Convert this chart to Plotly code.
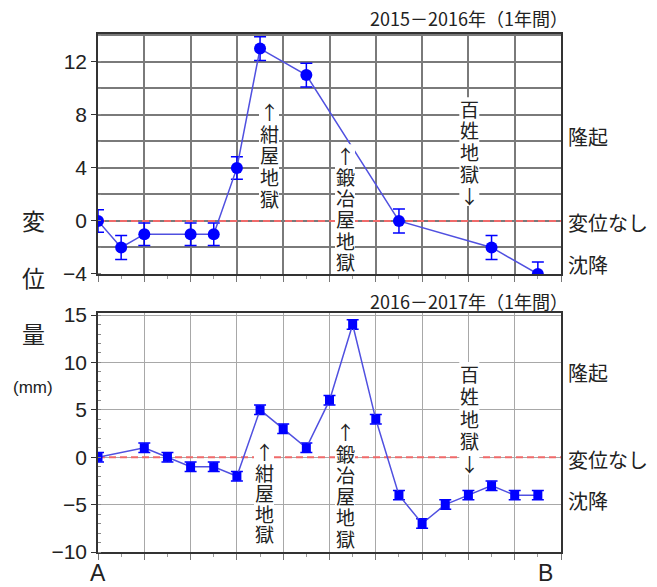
import plotly.graph_objects as go

# Survey points along the A-B profile (grid units) and vertical displacement (mm)
x_1516 = [0, 0.5, 1, 2, 2.5, 3, 3.5, 4.5, 6.5, 8.5, 9.5]
d_1516 = [0, -2, -1, -1, -1, 4, 13, 11, 0, -2, -4]
err_1516 = [0.85, 0.9, 0.85, 0.85, 0.85, 0.85, 0.9, 0.9, 0.9, 0.9, 0.9]

x_1617 = [0, 1, 1.5, 2, 2.5, 3, 3.5, 4, 4.5, 5, 5.5, 6, 6.5, 7, 7.5, 8, 8.5, 9, 9.5]
d_1617 = [0, 1, 0, -1, -1, -2, 5, 3, 1, 6, 14, 4, -4, -7, -5, -4, -3, -4, -4]
err_1617 = [0.5] * len(x_1617)

title_1516 = "2015－2016年（1年間）"
title_1617 = "2016－2017年（1年間）"
side_labels = ["隆起", "変位なし", "沈降"]

JP = "Noto Sans CJK JP"
NUM = "Liberation Sans"
LINE_BLUE = "#5050e0"
MARK_BLUE = "#0000ff"

# plot-area geometry in pixels (used to place free text)
L, R, T, B = 98, 96, 34, 35
W, H = 657, 587
PW, PH = W - L - R, H - T - B


def px_x(px):
    return (px - L) / PW


def px_y(py):
    return (H - B - py) / PH


fig = go.Figure()

fig.add_trace(go.Scatter(
    x=x_1516, y=d_1516, mode="lines+markers",
    line=dict(color=LINE_BLUE, width=1.5),
    marker=dict(symbol="circle", size=12, color=MARK_BLUE),
    error_y=dict(type="data", array=err_1516, color=MARK_BLUE, thickness=1.5, width=6),
    xaxis="x", yaxis="y", showlegend=False,
))
fig.add_trace(go.Scatter(
    x=x_1617, y=d_1617, mode="lines+markers",
    line=dict(color=LINE_BLUE, width=1.5),
    marker=dict(symbol="square", size=9, color=MARK_BLUE),
    error_y=dict(type="data", array=err_1617, color=MARK_BLUE, thickness=1.5, width=6),
    xaxis="x2", yaxis="y2", showlegend=False,
))

# zero-displacement reference lines (above the grid, below the data)
for xr, yr in (("x", "y"), ("x2", "y2")):
    fig.add_shape(type="line", xref=xr, yref=yr, x0=0, x1=10, y0=0, y1=0,
                  line=dict(color="#f06a6a", width=2, dash="7px,4px"), layer="between")

xcommon = dict(range=[0, 10], dtick=1, tick0=0, showgrid=True, showticklabels=False,
               ticks="outside", ticklen=6, tickcolor="#777", showline=True, mirror=True,
               linecolor="#333", linewidth=1.5, zeroline=False,
               minor=dict(dtick=0.5, ticks="outside", ticklen=3, tickcolor="#999"))

fig.update_layout(
    width=W, height=H,
    margin=dict(l=L, r=R, t=T, b=B),
    paper_bgcolor="white", plot_bgcolor="white",
    font=dict(family=NUM, color="#222"),
    xaxis=dict(**xcommon, anchor="y", gridcolor="#7a7a7a", gridwidth=1.5),
    yaxis=dict(domain=[0.5367, 1], range=[-4, 14.1], dtick=4, tick0=0,
               showgrid=True, gridcolor="#7a7a7a", gridwidth=1.5, zeroline=False,
               ticks="outside", ticklen=5, tickcolor="#333",
               tickfont=dict(family=NUM, size=21, color="#222"),
               showline=True, mirror=True, linecolor="#333", linewidth=1.5,
               minor=dict(dtick=2, showgrid=True, gridcolor="#7a7a7a", gridwidth=1.5,
                          ticks="inside", ticklen=3, tickcolor="#888"),
               anchor="x"),
    xaxis2=dict(**xcommon, anchor="y2", gridcolor="#a8a8a8", gridwidth=1.2),
    yaxis2=dict(domain=[0, 0.462], range=[-10, 15.25], dtick=5, tick0=0,
                showgrid=True, gridcolor="#a8a8a8", gridwidth=1.2, zeroline=False,
                ticks="outside", ticklen=5, tickcolor="#333",
                tickfont=dict(family=NUM, size=21, color="#222"),
                showline=True, mirror=True, linecolor="#333", linewidth=1.5,
                minor=dict(dtick=1, ticks="inside", ticklen=3, tickcolor="#888"),
                anchor="x2"),
)

ann = []


def paper(text, px, py, size, xanchor="center", family=JP):
    ann.append(dict(text=text, xref="paper", yref="paper",
                    x=px_x(px), y=px_y(py),
                    showarrow=False, xanchor=xanchor, yanchor="middle",
                    font=dict(family=family, size=size, color="#222")))


# hot-spring names written vertically, one character per row, on a white strip
def vlabel(text, px, py_first, step, size=19):
    top = py_first - step / 2
    bottom = py_first + (len(text) - 0.5) * step
    fig.add_shape(type="rect", xref="paper", yref="paper",
                  x0=px_x(px - 10), x1=px_x(px + 10), y0=px_y(bottom), y1=px_y(top),
                  fillcolor="white", line=dict(width=0), layer="above")
    for i, ch in enumerate(text):
        paper(ch, px, py_first + i * step, size)


vlabel("↑紺屋地獄", 269, 111.7, 21.6)
vlabel("↑鍛冶屋地獄", 345, 155, 21.3)
vlabel("百姓地獄↓", 469.3, 108, 21.75)
vlabel("↑紺屋地獄", 264, 451.7, 20.5)
vlabel("↑鍛冶屋地獄", 345, 431.7, 21.3)
vlabel("百姓地獄↓", 469.3, 373.3, 22.5)

paper(title_1516, 570, 18, 18, xanchor="right")
paper(title_1617, 570, 301, 18, xanchor="right")

for lbl, py in zip(side_labels, (136.7, 222, 264.7)):
    paper(lbl, 566, py, 20, xanchor="left")
for lbl, py in zip(side_labels, (372.7, 459.3, 500)):
    paper(lbl, 566, py, 20, xanchor="left")

paper("変", 33, 220, 23)
paper("位", 33, 277, 23)
paper("量", 33, 333, 23)
paper("(mm)", 33, 387, 17, family=NUM)
paper("A", 98, 573, 23, family=NUM)
paper("B", 545, 573, 23, family=NUM)

fig.update_layout(annotations=ann)

fig.write_html("out.html")
